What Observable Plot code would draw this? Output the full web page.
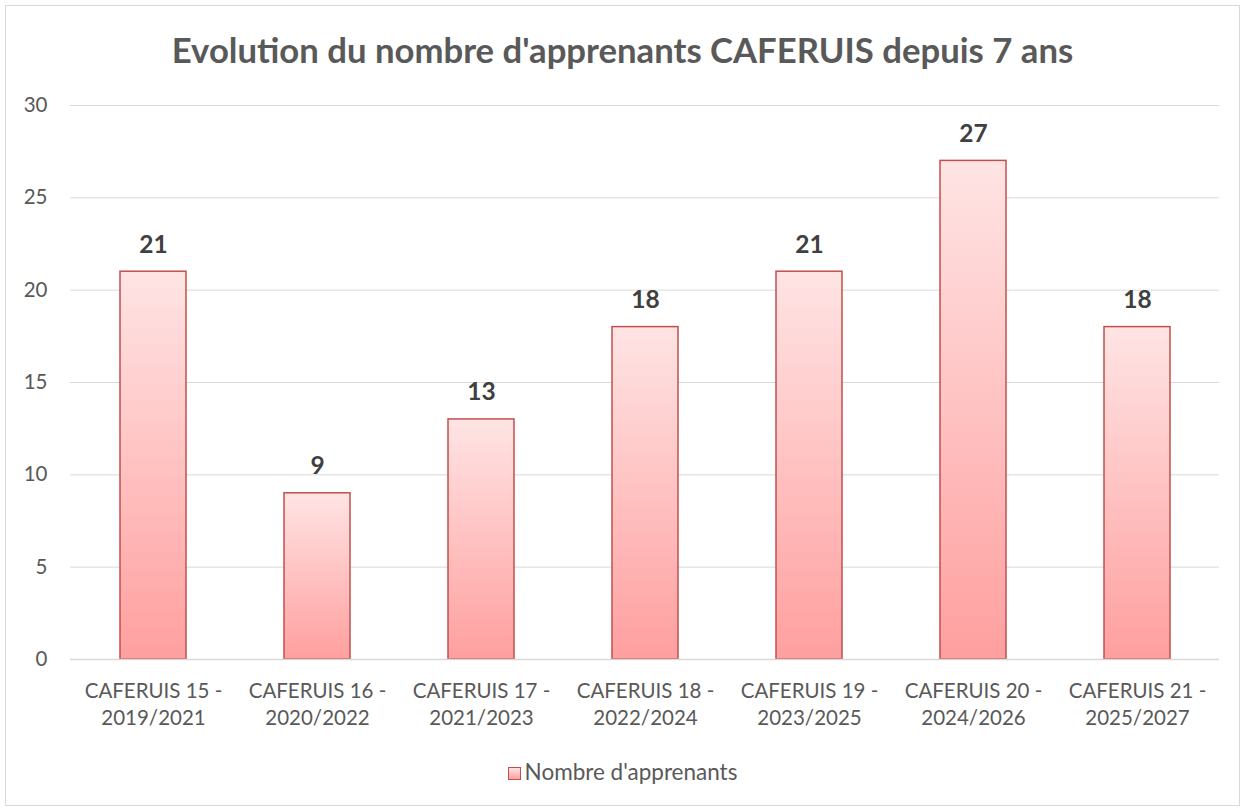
<!DOCTYPE html>
<html>
<head>
<meta charset="utf-8">
<script src="https://cdn.jsdelivr.net/npm/d3@7"></script>
<script src="https://cdn.jsdelivr.net/npm/@observablehq/plot@0.6"></script>
<style>
  body { margin: 0; background: #fff; font-family: Lato, "Open Sans", sans-serif; }
  #frame { position: absolute; left: 5px; top: 5px; width: 1233px; height: 799px; border: 1px solid #d9d9d9; }
  #title { position: absolute; left: 0; top: 29px; width: 1245px; text-align: center; font-weight: bold; font-size: 34.7px; line-height: 42px; color: #595959; }
  #chart { position: absolute; left: 0; top: 85px; }
  #legend { position: absolute; left: 0; top: 757px; width: 1245px; text-align: center; font-size: 22.5px; line-height: 30px; color: #595959; }
  #legend .sw { display: inline-block; width: 11px; height: 11px; border: 1.5px solid #c0504d; background: linear-gradient(#ffe3e3, #ffa0a0); vertical-align: 0px; margin-right: 4px; }
</style>
</head>
<body>
<div id="frame"></div>
<div id="title">Evolution du nombre d'apprenants CAFERUIS depuis 7 ans</div>
<div id="chart"></div>
<div id="legend"><span class="sw"></span>Nombre d'apprenants</div>
<script>
const categories = [
  "CAFERUIS 15 -\n2019/2021",
  "CAFERUIS 16 -\n2020/2022",
  "CAFERUIS 17 -\n2021/2023",
  "CAFERUIS 18 -\n2022/2024",
  "CAFERUIS 19 -\n2023/2025",
  "CAFERUIS 20 -\n2024/2026",
  "CAFERUIS 21 -\n2025/2027"
];
const values = [21, 9, 13, 18, 21, 27, 18];
const yTicks = [0, 5, 10, 15, 20, 25, 30];

const data = categories.map((c, i) => ({cat: c, value: values[i]}));

const plot = Plot.plot({
  width: 1245,
  height: 654,
  marginLeft: 70,
  marginRight: 26,
  marginTop: 20,
  marginBottom: 80,
  style: {fontFamily: "Lato, 'Open Sans', sans-serif", color: "#595959", background: "transparent"},
  x: {domain: categories, paddingInner: 0.6, paddingOuter: 0.3, label: null},
  y: {domain: [0, 30], label: null},
  marks: [
    Plot.gridY(yTicks, {stroke: "#d9d9d9", strokeOpacity: 1, strokeWidth: 1}),
    Plot.axisY({ticks: yTicks, tickSize: 0, tickPadding: 23, fontSize: 20.5, label: null, fill: "#595959"}),
    Plot.axisX({tickSize: 0, tickPadding: 19, fontSize: 20.5, label: null, fill: "#595959", lineHeight: 1.32}),
    Plot.barY(data, {x: "cat", y: "value", fill: "url(#barGrad)", stroke: "#c0504d", strokeWidth: 1.5}),
    Plot.ruleY([0], {stroke: "#d9d9d9", strokeWidth: 1.5}),
    Plot.text(data, {x: "cat", y: "value", text: d => String(d.value), dy: -27, fontSize: 24.5, fontWeight: "bold", fill: "#404040"})
  ]
});

const svg = d3.select(plot);
const defs = svg.insert("defs", ":first-child");
const g = defs.append("linearGradient").attr("id", "barGrad").attr("x1", 0).attr("y1", 0).attr("x2", 0).attr("y2", 1);
g.append("stop").attr("offset", "0%").attr("stop-color", "#ffe4e4");
g.append("stop").attr("offset", "100%").attr("stop-color", "#ff9f9f");
document.getElementById("chart").appendChild(plot);
</script>
</body>
</html>
